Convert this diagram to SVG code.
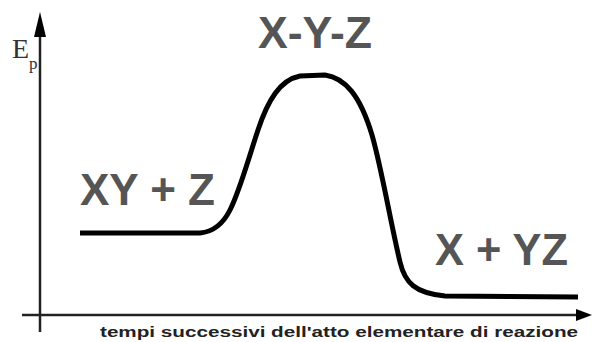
<svg xmlns="http://www.w3.org/2000/svg" width="592" height="342" viewBox="0 0 592 342">
<style>
.lbl{font-family:"Liberation Sans",Arial,sans-serif;font-weight:bold;fill:#555;font-size:44px}
.ax{stroke:#222;stroke-width:2.5;fill:none}
</style>
<rect width="592" height="342" fill="#fff"/>
<g id="axes">
<line class="ax" x1="40" y1="332" x2="40" y2="30"/>
<polygon points="40,12 34,37 46,37" fill="#000"/>
<line class="ax" x1="22" y1="315" x2="580" y2="315"/>
<polygon points="592,315 576,309 576,321" fill="#000"/>
</g>
<g id="curve">
<path d="M80,233 L200,233 C212,232 222,226 230,210 C240,190 248,160 258,130 C268,100 280,80 300,76 L325,75 C345,78 360,95 372,135 C382,170 390,220 400,262 C405,283 415,293 445,296 L578,297" fill="none" stroke="#000" stroke-width="5" stroke-linejoin="round"/>
</g>
<g id="labels">
<text x="12" y="58" font-family="Liberation Serif,serif" font-size="28" fill="#333">E<tspan dy="11" font-size="17">p</tspan></text>
<text class="lbl" x="258" y="48" textLength="114" lengthAdjust="spacingAndGlyphs">X-Y-Z</text>
<text class="lbl" x="80" y="205" textLength="135" lengthAdjust="spacingAndGlyphs">XY + Z</text>
<text class="lbl" x="435" y="265" textLength="133" lengthAdjust="spacingAndGlyphs">X + YZ</text>
<text x="578" y="337" text-anchor="end" font-family="Liberation Sans,Arial,sans-serif" font-weight="bold" font-size="14" fill="#222" textLength="478" lengthAdjust="spacingAndGlyphs">tempi successivi dell'atto elementare di reazione</text>
</g>
</svg>
